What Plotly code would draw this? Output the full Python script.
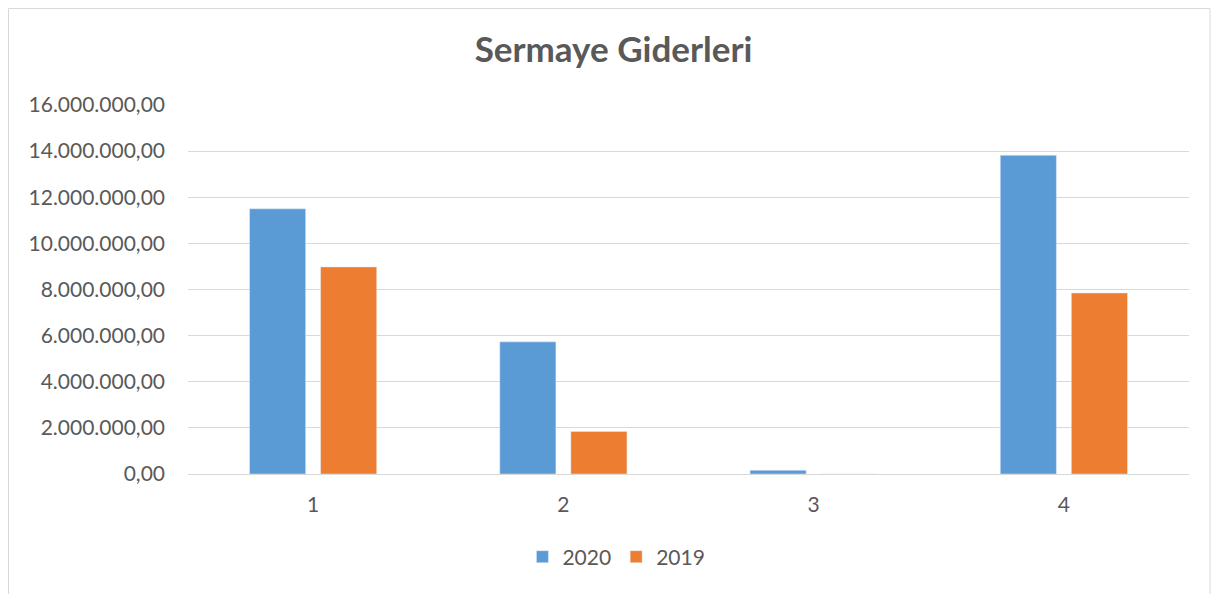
import plotly.graph_objects as go

categories = ["1", "2", "3", "4"]
values_2020 = [11500000, 5730000, 160000, 13820000]
values_2019 = [8980000, 1840000, 0, 7850000]

fig = go.Figure()

fig.add_trace(go.Bar(
    name = "2020",
    x = categories,
    y = values_2020,
    marker = {"color": "#5B9BD5"},
))

fig.add_trace(go.Bar(
    name = "2019",
    x = categories,
    y = values_2019,
    marker = {"color": "#ED7D31"},
))

font_family = "Lato, Open Sans, sans-serif"

# page has an 8px body margin, so the figure is a bit smaller than the window
W, H = 1211, 586
L, R, T = 180, 30, 97
B = H - T - 369

fig.update_layout(
    width = W,
    height = H,
    margin = {"l": L, "r": R, "t": T, "b": B},
    paper_bgcolor = "white",
    plot_bgcolor = "white",
    separators = ",.",
    barmode = "group",
    bargap = 0.432,
    bargroupgap = 0.21,
    title = {
        "text": "<b>Sermaye Giderleri</b>",
        "x": 0.5,
        "xanchor": "center",
        "y": 1 - 42 / H,
        "yanchor": "middle",
        "font": {"family": font_family, "size": 35, "color": "#595959"},
    },
    font = {"family": font_family, "size": 21, "color": "#595959"},
    legend = {
        "orientation": "h",
        "x": 0.428,
        "xanchor": "center",
        "y": -0.225,
        "yanchor": "middle",
        "font": {"size": 21, "color": "#595959"},
    },
    showlegend = True,
)

fig.update_yaxes(
    range = [0, 16000000],
    dtick = 2000000,
    tickformat = ",.2f",
    showgrid = True,
    gridcolor = "#D9D9D9",
    gridwidth = 1,
    zeroline = True,
    zerolinecolor = "#D9D9D9",
    zerolinewidth = 1,
    ticks = "",
    ticklabelstandoff = 22,
)

fig.update_xaxes(
    showgrid = False,
    showline = False,
    ticks = "",
    ticklabelstandoff = 16,
)

# outer chart border
fig.add_shape(
    type = "rect",
    xref = "paper", yref = "paper",
    x0 = (0.5 - L) / 1001, x1 = (1202 - L) / 1001,
    y0 = -0.5, y1 = (T + 369 - 0.5) / 369,
    line = {"color": "#D9D9D9", "width": 1},
    fillcolor = "rgba(0,0,0,0)",
    layer = "below",
)

fig.write_html("out.html")
